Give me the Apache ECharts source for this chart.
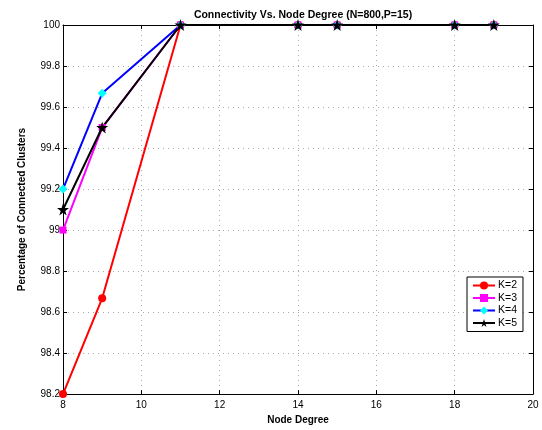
<!DOCTYPE html>
<html>
<head>
<meta charset="utf-8">
<script src="https://cdn.jsdelivr.net/npm/echarts@6/dist/echarts.min.js"></script>
<style>
  html, body { margin: 0; padding: 0; background: #fff; }
  #chart { width: 542px; height: 430px; }
</style>
</head>
<body>
<div id="chart"></div>
<script>
const nodeDegree = [8, 9, 11, 14, 15, 18, 19]
const k2 = [98.2, 98.667, 100, 100, 100, 100, 100]
const k3 = [99.0, 99.5, 100, 100, 100, 100, 100]
const k4 = [99.2, 99.667, 100, 100, 100, 100, 100]
const k5 = [99.1, 99.5, 100, 100, 100, 100, 100]

const FONT = '"Liberation Sans", Arial, sans-serif'
const STAR = 'path://M50,0 L61.8,36.2 L100,36.2 L69.1,58.6 L80.9,95.1 L50,72.7 L19.1,95.1 L30.9,58.6 L0,36.2 L38.2,36.2 Z'

const pairs = arr => arr.map((v, i) => [nodeDegree[i], v])

const gridLine = { show: true, lineStyle: { color: '#aaa', type: [1, 4], width: 1 } }

function mkSeries (name, data, symbol, size, markColor, lineColor) {
  return {
    name: name,
    type: 'line',
    data: pairs(data),
    symbol: symbol,
    symbolSize: size,
    showAllSymbol: true,
    itemStyle: { color: markColor },
    lineStyle: { color: lineColor, width: 2 },
    emphasis: { disabled: true },
    animation: false
  }
}

const option = {
  animation: false,
  title: {
    text: 'Connectivity Vs. Node Degree (N=800,P=15)',
    left: 298,
    textAlign: 'center',
    top: 5,
    textStyle: { fontFamily: FONT, fontSize: 10.5, fontWeight: 'bold', color: '#000' }
  },
  grid: { left: 63, right: 9, top: 25, bottom: 33 },
  legend: {
    orient: 'vertical',
    left: 467,
    top: 277,
    padding: [3, 6, 3, 5],
    itemGap: 1.5,
    itemWidth: 22,
    itemHeight: 10,
    borderColor: '#000',
    borderWidth: 1,
    backgroundColor: '#fff',
    textStyle: { fontFamily: FONT, fontSize: 10.5, color: '#000', padding: [0, 0, 0, -2] },
    data: ['K=2', 'K=3', 'K=4', 'K=5']
  },
  xAxis: [
    {
      type: 'value',
      min: 8, max: 20, interval: 2,
      name: 'Node Degree',
      nameLocation: 'middle',
      nameGap: 20,
      nameTextStyle: { fontFamily: FONT, fontSize: 10, fontWeight: 'bold', color: '#000' },
      axisLine: { lineStyle: { color: '#000', width: 1 } },
      axisTick: { inside: true, length: 4, lineStyle: { color: '#000' } },
      axisLabel: { fontFamily: FONT, fontSize: 10, color: '#000', margin: 6 },
      splitLine: gridLine
    },
    {
      type: 'value', position: 'top',
      min: 8, max: 20, interval: 2,
      axisLine: { lineStyle: { color: '#000', width: 1 } },
      axisTick: { inside: true, length: 4, lineStyle: { color: '#000' } },
      axisLabel: { show: false },
      splitLine: { show: false }
    }
  ],
  yAxis: [
    {
      type: 'value',
      min: 98.2, max: 100, interval: 0.2,
      name: 'Percentage of Connected Clusters',
      nameLocation: 'middle',
      nameGap: 36,
      nameTextStyle: { fontFamily: FONT, fontSize: 10, fontWeight: 'bold', color: '#000' },
      axisLine: { show: true, lineStyle: { color: '#000', width: 1 } },
      axisTick: { show: true, inside: true, length: 4, lineStyle: { color: '#000' } },
      axisLabel: {
        fontFamily: FONT, fontSize: 10, color: '#000', margin: 3,
        formatter: v => String(parseFloat(v.toFixed(1)))
      },
      splitLine: gridLine
    },
    {
      type: 'value', position: 'right',
      min: 98.2, max: 100, interval: 0.2,
      axisLine: { show: true, lineStyle: { color: '#000', width: 1 } },
      axisTick: { show: true, inside: true, length: 4, lineStyle: { color: '#000' } },
      axisLabel: { show: false },
      splitLine: { show: false }
    }
  ],
  series: [
    mkSeries('K=2', k2, 'circle', 8, '#ff0000', '#ff0000'),
    mkSeries('K=3', k3, 'rect', 7, '#ff00ff', '#ff00ff'),
    mkSeries('K=4', k4, 'diamond', 9, '#00ffff', '#0000ff'),
    mkSeries('K=5', k5, STAR, 12, '#000000', '#000000')
  ]
}

const myChart = echarts.init(document.getElementById('chart'), null, { renderer: 'canvas' })
myChart.setOption(option, true)
</script>
</body>
</html>
